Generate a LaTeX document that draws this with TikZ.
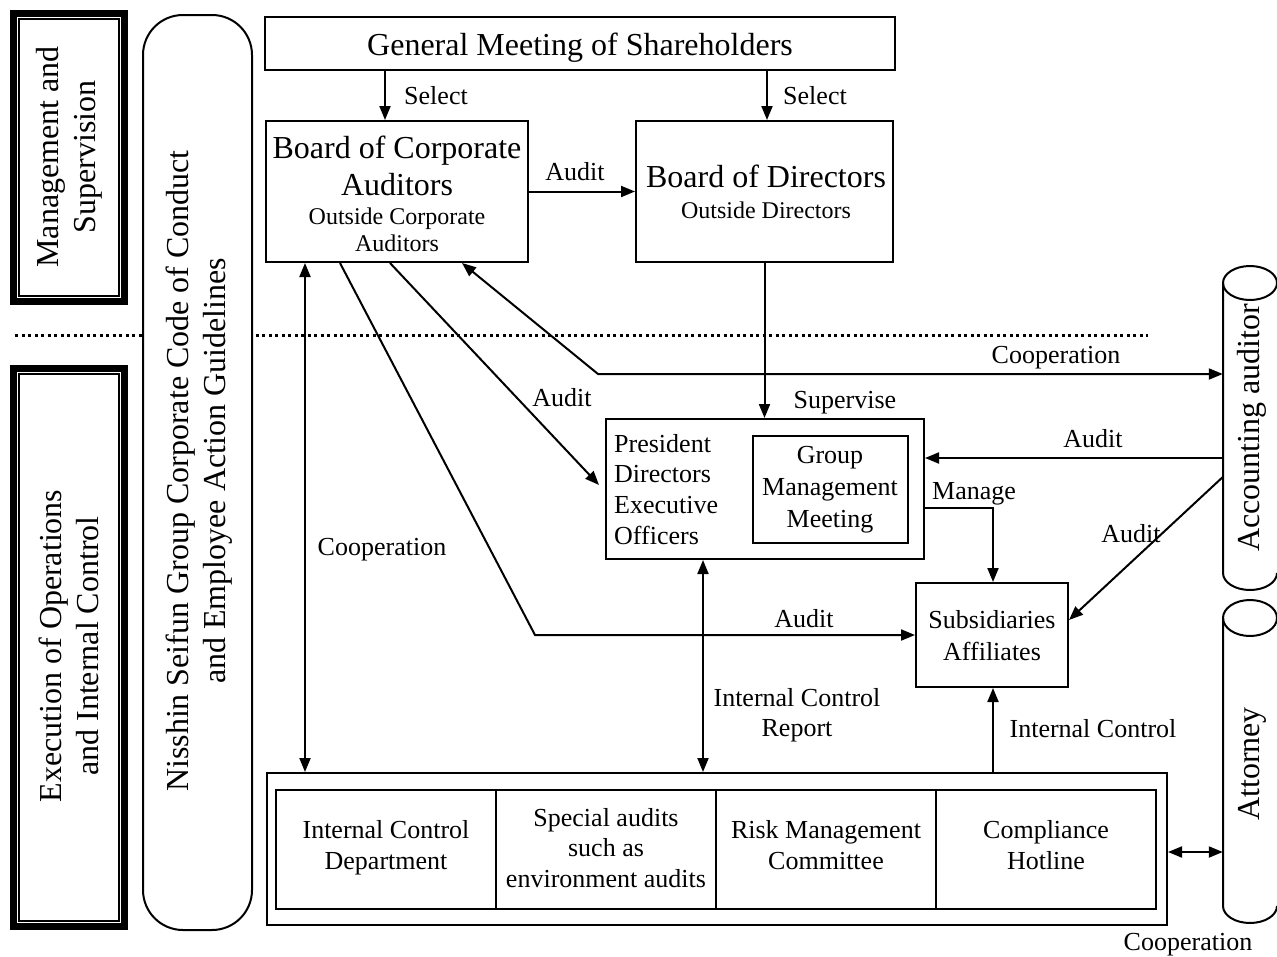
\documentclass[tikz,border=0pt]{standalone}
\usepackage{fontspec}
\setmainfont{Liberation Serif}
\usetikzlibrary{arrows.meta,calc}
\begin{document}
\begin{tikzpicture}[x=1pt,y=-1pt,
  box/.style={draw, line width=2pt, inner sep=0pt},
  cell/.style={draw, line width=2.5pt, inner sep=0pt, minimum width=220, minimum height=119},
  big/.style={font=\fontsize{32}{37}\selectfont, inner sep=0pt},
  lab/.style={font=\fontsize{26}{31}\selectfont, inner sep=0pt},
  sml/.style={font=\fontsize{24}{27}\selectfont, inner sep=0pt},
  arr/.style={line width=2pt, -{Triangle[length=14pt,width=11pt]}},
  darr/.style={line width=2pt, {Triangle[length=14pt,width=11pt]}-{Triangle[length=14pt,width=11pt]}},
  ln/.style={line width=2pt},
  thickframe/.style={draw, line width=7pt, inner sep=0pt, minimum width=111}]
\useasboundingbox (0,0) rectangle (1277,956);
\fill[white] (0,0) rectangle (1277,956);

% dotted separator
\draw[line width=3pt, dash pattern=on 3pt off 3.5pt] (15,335) -- (1148,335);

% left frames
\node[thickframe, minimum height=288] (ms) at (69,157.5) {};
\draw[line width=1.6pt] ($(ms.north west)+(9,9)$) rectangle ($(ms.south east)+(-9,-9)$);
\node[big, rotate=90, align=center] (t-ms) at (69,157) {Management and\\Supervision};

\node[thickframe, minimum height=558] (ex) at (69,647.5) {};
\draw[line width=1.6pt] ($(ex.north west)+(9,9)$) rectangle ($(ex.south east)+(-9,-9)$);
\node[big, rotate=90, align=center] (t-ex) at (69,646) {Execution of Operations\\and Internal Control};

\node[box, fill=white, rounded corners=40pt, minimum width=109, minimum height=915] (code) at (197.5,472.5) {};
\node[big, rotate=90, align=center] (t-code) at (199,471) {Nisshin Seifun Group Corporate Code of Conduct\\and Employee Action Guidelines};

% main boxes
\node[box, minimum width=630, minimum height=53] (gms) at (580,43.5) {};
\node[big, anchor=base] (t-gms) at (580,55) {General Meeting of Shareholders};

\node[box, minimum width=262, minimum height=141] (bca) at (397,191.5) {};
\node[big, anchor=base] (t-bca1) at (397,158) {Board of Corporate};
\node[big, anchor=base] (t-bca2) at (397,195) {Auditors};
\node[sml, anchor=base] (t-bca3) at (397,224) {Outside Corporate};
\node[sml, anchor=base] (t-bca4) at (397,251) {Auditors};

\node[box, minimum width=257, minimum height=141] (bod) at (764.5,191.5) {};
\node[big, anchor=base] (t-bod1) at (766,187) {Board of Directors};
\node[sml, anchor=base] (t-bod2) at (766,218) {Outside Directors};

\node[box, minimum width=318, minimum height=140] (pres) at (765,489) {};
\node[lab, anchor=base west] (t-p1) at (614,452) {President};
\node[lab, anchor=base west] (t-p2) at (614,482) {Directors};
\node[lab, anchor=base west] (t-p3) at (614,513) {Executive};
\node[lab, anchor=base west] (t-p4) at (614,544) {Officers};

\node[box, minimum width=155, minimum height=107] (gmm) at (830.5,489.5) {};
\node[lab, anchor=base] (t-g1) at (830,463) {Group};
\node[lab, anchor=base] (t-g2) at (830,495) {Management};
\node[lab, anchor=base] (t-g3) at (830,527) {Meeting};

\node[box, minimum width=152, minimum height=104] (subs) at (992,635) {};
\node[lab, anchor=base] (t-s1) at (992,628) {Subsidiaries};
\node[lab, anchor=base] (t-s2) at (992,660) {Affiliates};

% bottom frame
\node[box, minimum width=900, minimum height=152] (bot) at (717,849) {};
\node[cell] (c1) at (386,849.5) {};
\node[cell] (c2) at (606,849.5) {};
\node[cell] (c3) at (826,849.5) {};
\node[cell] (c4) at (1046,849.5) {};
\node[lab, anchor=base] (t-c1a) at (386,838) {Internal Control};
\node[lab, anchor=base] (t-c1b) at (386,869) {Department};
\node[lab, anchor=base] (t-c2a) at (606,826) {Special audits};
\node[lab, anchor=base] (t-c2b) at (606,856) {such as};
\node[lab, anchor=base] (t-c2c) at (606,887) {environment audits};
\node[lab, anchor=base] (t-c3a) at (826,838) {Risk Management};
\node[lab, anchor=base] (t-c3b) at (826,869) {Committee};
\node[lab, anchor=base] (t-c4a) at (1046,838) {Compliance};
\node[lab, anchor=base] (t-c4b) at (1046,869) {Hotline};

% cylinders
\node[inner sep=0pt, minimum width=54, minimum height=324] (acc) at (1250,428) {};
\draw[ln] (1250,283) ellipse[x radius=27, y radius=17];
\draw[ln] (1223,283) -- (1223,573) arc[start angle=180, end angle=0, x radius=27, y radius=17];
\node[big, rotate=90] (t-acc) at (1252,428) {Accounting auditor};

\node[inner sep=0pt, minimum width=54, minimum height=323] (att) at (1250,761.5) {};
\draw[ln] (1250,618) ellipse[x radius=27, y radius=18];
\draw[ln] (1223,618) -- (1223,906) arc[start angle=180, end angle=0, x radius=27, y radius=17];
\node[big, rotate=90] (t-att) at (1252,764) {Attorney};

% connectors
\coordinate (xs1) at (385,0);
\coordinate (xs2) at (767,0);
\draw[arr] (xs1 |- gms.south) -- (xs1 |- bca.north);
\draw[arr] (xs2 |- gms.south) -- (xs2 |- bod.north);
\draw[arr] (bca.east) -- (bod.west);
\draw[arr] (bod.south) -- (bod.south |- pres.north);

\coordinate (xc) at (462,0);
\coordinate (cb) at (598,374);
\draw[darr] (xc |- bca.south) -- (cb) -- (cb -| acc.west);

\coordinate (xa) at (390,0);
\coordinate (pa) at (599,485);
\draw[arr] (xa |- bca.south) -- (pa);

\coordinate (xb) at (340,0);
\coordinate (sb) at (535,635);
\draw[arr] (xb |- bca.south) -- (sb) -- (subs.west);

\coordinate (xv) at (305,0);
\draw[darr] (xv |- bca.south) -- (xv |- bot.north);

\coordinate (xi) at (703,0);
\draw[darr] (xi |- pres.south) -- (xi |- bot.north);

\coordinate (mg) at (993,508);
\draw[arr] (mg -| pres.east) -- (mg) -- (mg |- subs.north);
\draw[arr] (mg |- bot.north) -- (mg |- subs.south);

\coordinate (ya) at (0,458);
\draw[arr] (ya -| acc.west) -- (ya -| pres.east);

\coordinate (ad) at (0,477);
\coordinate (ae) at (0,620);
\draw[arr] (ad -| acc.west) -- (ae -| subs.east);

\coordinate (yh) at (0,852);
\draw[darr] (yh -| bot.east) -- (yh -| att.west);

% connector labels
\node[lab, anchor=base] (l-sel1) at (436,104) {Select};
\node[lab, anchor=base] (l-sel2) at (815,104) {Select};
\node[lab, anchor=base] (l-aud1) at (575,180) {Audit};
\node[lab, anchor=base] (l-coop1) at (1056,363) {Cooperation};
\node[lab, anchor=base] (l-aud2) at (562,406) {Audit};
\node[lab, anchor=base] (l-sup) at (845,408) {Supervise};
\node[lab, anchor=base] (l-aud3) at (1093,447) {Audit};
\node[lab, anchor=base] (l-man) at (974,499) {Manage};
\node[lab, anchor=base] (l-aud4) at (1131,542) {Audit};
\node[lab, anchor=base] (l-coop2) at (382,555) {Cooperation};
\node[lab, anchor=base] (l-aud5) at (804,627) {Audit};
\node[lab, anchor=base] (l-icr1) at (797,706) {Internal Control};
\node[lab, anchor=base] (l-icr2) at (797,736) {Report};
\node[lab, anchor=base] (l-ic) at (1093,737) {Internal Control};
\node[lab, anchor=base] (l-coop3) at (1188,950) {Cooperation};
\end{tikzpicture}
\end{document}
